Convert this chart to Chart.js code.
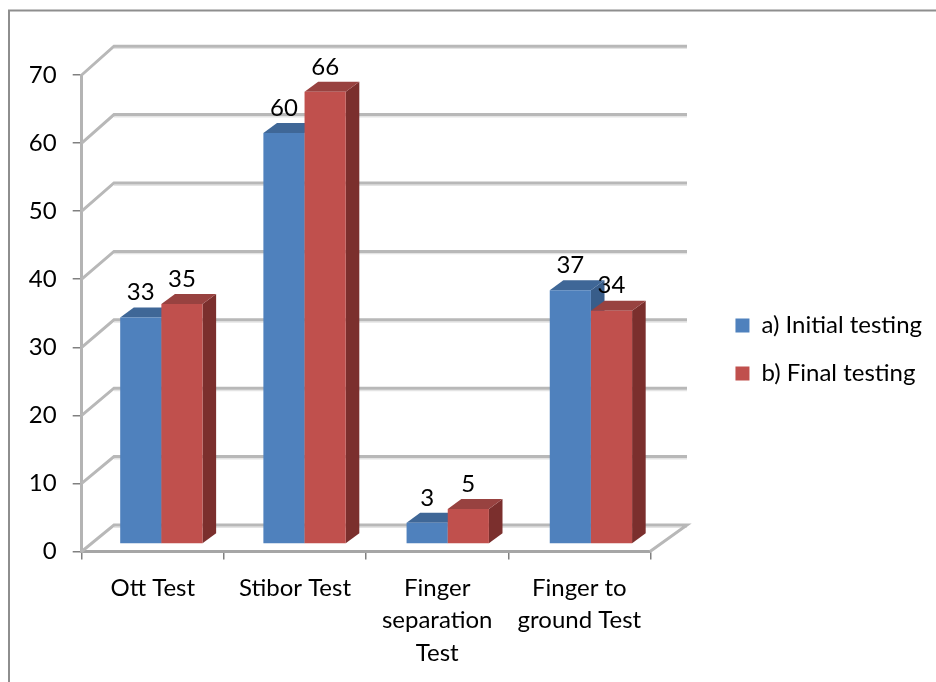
<!DOCTYPE html>
<html><head><meta charset="utf-8">
<script src="https://cdn.jsdelivr.net/npm/chart.js@4"></script>
<style>html,body{margin:0;padding:0;background:#fff}canvas{display:block;filter:blur(0.4px)}</style>
</head><body><canvas id="c" width="936" height="682"></canvas>
<script>
const categories = ['Ott Test','Stibor Test',['Finger','separation','Test'],['Finger to','ground Test']];
const initialTesting = [33,60,3,37];
const finalTesting = [35,66,5,34];
const seriesNames = ['a) Initial testing','b) Final testing'];
const seriesColors = ['#4F81BD','#C0504D'];
const topColors = ['#3F6797','#984240'];
const sideColors = ['#385D8A','#7B2F2D'];
const FONT = 'Lato';
const FS = 24;
const barShift = {k:1.007, tx:7.5, dy:-8.2, depthX:13.5, depthY:10};
const wall = {frontL:81.7, frontR:650, backL:114, backR:687, dy:-26.5};
const legendLift = 29;

function poly(ctx,pts,fill){ctx.beginPath();pts.forEach((p,i)=>i?ctx.lineTo(p[0],p[1]):ctx.moveTo(p[0],p[1]));ctx.closePath();ctx.fillStyle=fill;ctx.fill();}

function drawBars(chart,i,meta){
  const c=chart.ctx, s=barShift;
  c.save(); c.translate(s.tx,s.dy); c.scale(s.k,1);
  meta.data.forEach(b=>{
    const l=b.x-b.width/2, r=b.x+b.width/2;
    poly(c,[[r,b.y],[r+s.depthX,b.y-s.depthY],[r+s.depthX,b.base-s.depthY],[r,b.base]],sideColors[i]);
    poly(c,[[l,b.y],[l+s.depthX,b.y-s.depthY],[r+s.depthX,b.y-s.depthY],[r,b.y]],topColors[i]);
  });
  meta.controller.draw();
  c.restore();
}

const bars3d = {
  id:'bars3d',
  afterLayout(chart){ chart.legend.top-=legendLift; chart.legend.bottom-=legendLift; },
  beforeDraw(chart){
    const c=chart.ctx; c.save();
    c.strokeStyle='#8E8E8E'; c.lineWidth=2;
    c.beginPath(); c.moveTo(9,682); c.lineTo(9,10.5); c.lineTo(936,10.5); c.stroke();
    c.restore();
  },
  beforeDatasetsDraw(chart){
    const c=chart.ctx, y=chart.scales.y, y1=chart.scales.y1;
    c.save();
    y.ticks.forEach(t=>{
      const fy=y.getPixelForValue(t.value), by=y1.getPixelForValue(t.value)+wall.dy;
      c.lineCap='butt';
      c.strokeStyle='#E4E4E4'; c.lineWidth=1.5;
      c.beginPath(); c.moveTo(wall.backL,by+2.2); c.lineTo(wall.backR,by+2.2); c.stroke();
      c.strokeStyle='#B8B8B8'; c.lineWidth=3;
      c.beginPath(); c.moveTo(wall.frontL,fy); c.lineTo(wall.backL,by); c.lineTo(wall.backR,by);
      if(t.value===0) c.lineTo(wall.frontR,fy);
      c.stroke();
    });
    c.restore();
  },
  // Series a must sit behind series b, so both are painted here in that order.
  beforeDatasetDraw(){ return false; },
  afterDatasetsDraw(chart){
    chart.data.datasets.forEach((ds,i)=>drawBars(chart,i,chart.getDatasetMeta(i)));
    const c=chart.ctx, s=barShift;
    c.save();
    c.font=FS+'px '+FONT; c.fillStyle='#000'; c.textAlign='center'; c.textBaseline='middle';
    chart.data.datasets.forEach((ds,i)=>{
      chart.getDatasetMeta(i).data.forEach((b,j)=>{
        c.fillText(String(ds.data[j]), b.x*s.k+s.tx, b.y+s.dy-25);
      });
    });
    c.restore();
  }
};

new Chart(document.getElementById('c'),{
  type:'bar',
  data:{labels:categories,datasets:[
    {label:seriesNames[0],data:initialTesting,backgroundColor:seriesColors[0],yAxisID:'y1',clip:false},
    {label:seriesNames[1],data:finalTesting,backgroundColor:seriesColors[1],yAxisID:'y1',clip:false}
  ]},
  plugins:[bars3d],
  options:{
    responsive:false,animation:false,devicePixelRatio:1,
    layout:{padding:{top:75,right:4,bottom:0,left:0}},
    categoryPercentage:0.575,barPercentage:1,
    plugins:{
      tooltip:{enabled:false},
      legend:{position:'right',align:'center',maxWidth:300,
        labels:{font:{family:FONT,size:FS},color:'#000',boxWidth:14,boxHeight:14,padding:24}}
    },
    scales:{
      x:{
        grid:{drawOnChartArea:false,drawTicks:true,tickLength:8,color:'#808080',lineWidth:1.5},
        border:{color:'#A6A6A6',width:3},
        ticks:{color:'#000',font:{family:FONT,size:FS,lineHeight:1.34},padding:13,maxRotation:0,autoSkip:false},
        afterFit(a){a.height=130.5;}
      },
      y:{
        min:0,max:70,
        grid:{drawOnChartArea:false,drawTicks:true,tickLength:9,color:'#808080',lineWidth:1.5},
        border:{color:'#B4B4B4',width:3},
        ticks:{stepSize:10,color:'#000',font:{family:FONT,size:FS},padding:16},
        afterFit(a){a.width=81.7;}
      },
      y1:{
        position:'right',min:0,max:69.66,
        grid:{display:false},border:{display:false},ticks:{display:false},
        afterFit(a){a.width=61;}
      }
    }
  }
});
</script></body></html>
